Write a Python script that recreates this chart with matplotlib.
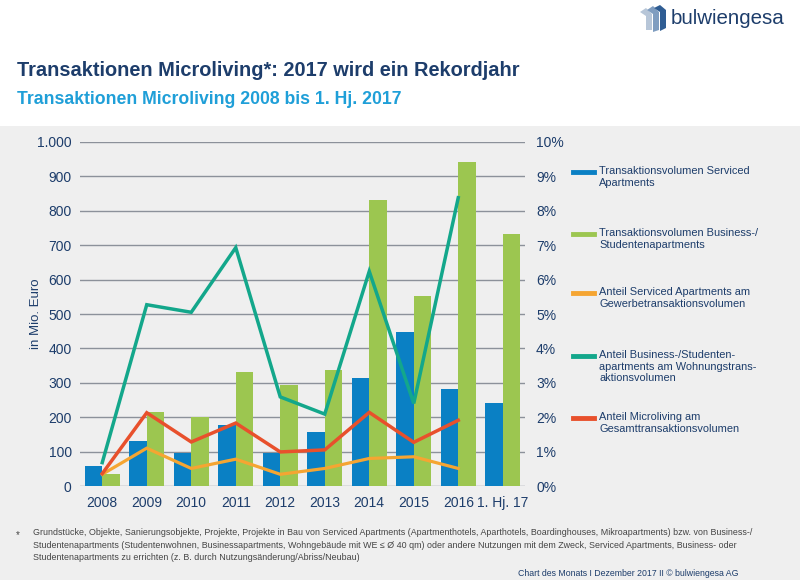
import matplotlib
matplotlib.use("Agg")
import matplotlib.pyplot as plt
from matplotlib.lines import Line2D
from matplotlib.patches import Rectangle, Polygon
import numpy as np

plt.rcParams['font.family'] = ['Liberation Sans', 'DejaVu Sans']

categories = ["2008", "2009", "2010", "2011", "2012", "2013", "2014", "2015", "2016", "1. Hj. 17"]
vol_serviced = [58, 131, 97, 178, 97, 157, 315, 449, 283, 242]
vol_business = [36, 216, 200, 330, 294, 338, 830, 551, 941, 734]
share_serviced = [0.34, 1.10, 0.51, 0.78, 0.34, 0.51, 0.80, 0.85, 0.51]
share_business = [0.68, 5.27, 5.05, 6.93, 2.59, 2.09, 6.24, 2.40, 8.38]
share_micro = [0.36, 2.13, 1.28, 1.83, 0.99, 1.05, 2.14, 1.27, 1.91]
left_ticks = [0, 100, 200, 300, 400, 500, 600, 700, 800, 900, 1000]
left_labels = ["0", "100", "200", "300", "400", "500", "600", "700", "800", "900", "1.000"]
right_ticks = [0, 1, 2, 3, 4, 5, 6, 7, 8, 9, 10]
right_labels = ["0%", "1%", "2%", "3%", "4%", "5%", "6%", "7%", "8%", "9%", "10%"]
legend_labels = [
    "Transaktionsvolumen Serviced\nApartments",
    "Transaktionsvolumen Business-/\nStudentenapartments",
    "Anteil Serviced Apartments am\nGewerbetransaktionsvolumen",
    "Anteil Business-/Studenten-\napartments am Wohnungstrans-\naktionsvolumen",
    "Anteil Microliving am\nGesamttransaktionsvolumen",
]

C_BLUE = "#0a80c4"
C_GREEN = "#9cc650"
C_ORANGE = "#f5a532"
C_TEAL = "#13a78b"
C_RED = "#e8502c"
C_NAVY = "#1d3d6b"
C_SUB = "#1f9fd8"
C_GRID = "#8c919a"
BG = "#efefef"

W, H = 800, 580
fig = plt.figure(figsize=(8, 5.8), dpi=100, facecolor="white")

def fx(px):
    return px / W

def fy(py):
    return 1 - py / H

# grey background panel
fig.patches.append(Rectangle((0, 0), 1, fy(126), transform=fig.transFigure,
                             facecolor=BG, edgecolor="none", zorder=-10))

ax = fig.add_axes([fx(80), fy(486), fx(525) - fx(80), fy(142) - fy(486)])
ax.set_zorder(2)
ax.set_facecolor("none")
x = np.arange(len(categories))
bw = 0.39
ax.bar(x - bw / 2, vol_serviced, width=bw, color=C_BLUE, zorder=3)
ax.bar(x + bw / 2, vol_business, width=bw, color=C_GREEN, zorder=3)
ax.set_xlim(-0.5, len(categories) - 0.5)
ax.set_ylim(0, 1000)
ax.set_yticks(left_ticks)
ax.set_yticklabels(left_labels)
ax.yaxis.grid(True, color=C_GRID, linewidth=1.0, zorder=0)
ax.set_axisbelow(True)
for s in ax.spines.values():
    s.set_visible(False)
ax.tick_params(axis="y", length=0, pad=6, labelsize=10, labelcolor=C_NAVY)
ax.set_xticks(x)
ax.set_xticklabels(categories)
ax.tick_params(axis="x", length=0, pad=7, labelsize=10, labelcolor=C_NAVY)
ax.set_ylabel("in Mio. Euro", fontsize=9.5, color=C_NAVY)
ax.yaxis.set_label_coords((42 - 80) / 445, 0.5)

ax2 = ax.twinx()
ax2.set_zorder(3)
ax2.set_ylim(0, 10)
ax2.set_yticks(right_ticks)
ax2.set_yticklabels(right_labels)
for s in ax2.spines.values():
    s.set_visible(False)
ax2.tick_params(axis="y", length=0, pad=8, labelsize=10, labelcolor=C_NAVY)
xl = np.arange(len(share_business))
ax2.plot(xl, share_serviced, color=C_ORANGE, lw=2.3, zorder=4, solid_joinstyle="miter")
ax2.plot(xl, share_business, color=C_TEAL, lw=2.5, zorder=5, solid_joinstyle="miter")
ax2.plot(xl, share_micro, color=C_RED, lw=2.5, zorder=6, solid_joinstyle="miter")

# legend
leg_colors = [C_BLUE, C_GREEN, C_ORANGE, C_TEAL, C_RED]
leg_y = [172, 234, 293, 356, 418]
for c, yy, lab in zip(leg_colors, leg_y, legend_labels):
    fig.add_artist(Line2D([fx(573), fx(594)], [fy(yy), fy(yy)], color=c, lw=3.5,
                          transform=fig.transFigure))
    fig.text(fx(599), fy(yy - 6), lab, fontsize=7.9, color=C_NAVY, va="top", ha="left",
             linespacing=1.2)

# titles
fig.text(fx(17), fy(70), "Transaktionen Microliving*: 2017 wird ein Rekordjahr",
         fontsize=14.4, fontweight="bold", color=C_NAVY, va="center", ha="left")
fig.text(fx(17), fy(100), "Transaktionen Microliving 2008 bis 1. Hj. 2017",
         fontsize=12.7, fontweight="bold", color=C_SUB, va="center", ha="left")

# logo
fig.text(fx(671), fy(18), "bulwiengesa", fontsize=14.8, color=C_NAVY, va="center", ha="left")
icon = [
    ([(640, 12), (646, 8), (652, 14), (652, 30), (646, 30), (646, 16)], "#b7c6d8"),
    ([(647, 10), (653, 6), (659, 12), (659, 30), (653, 32), (653, 14)], "#7f9dc0"),
    ([(654, 8), (660, 5), (666, 10), (666, 28), (660, 31), (660, 12)], "#2f5d93"),
]
for pts, col in icon:
    fig.patches.append(Polygon([(fx(a), fy(b)) for a, b in pts], closed=True,
                               transform=fig.transFigure, facecolor=col, edgecolor="none"))

# footnote
fn = ("Grundstücke, Objekte, Sanierungsobjekte, Projekte, Projekte in Bau von Serviced Apartments "
      "(Apartmenthotels, Aparthotels, Boardinghouses, Mikroapartments) bzw. von Business-/\n"
      "Studentenapartments (Studentenwohnen, Businessapartments, Wohngebäude mit WE ≤ Ø 40 qm) "
      "oder andere Nutzungen mit dem Zweck, Serviced Apartments, Business- oder\n"
      "Studentenapartments zu errichten (z. B. durch Nutzungsänderung/Abriss/Neubau)")
fig.text(fx(16), fy(535), "*", fontsize=7, color="#444444", va="center", ha="left")
fig.text(fx(33), fy(528), fn, fontsize=6.4, color="#444444", va="top", ha="left",
         linespacing=1.5)
fig.text(fx(738), fy(573), "Chart des Monats I Dezember 2017 II © bulwiengesa AG",
         fontsize=6.3, color=C_NAVY, va="center", ha="right")

fig.savefig("out.png", dpi=100, facecolor="white")
